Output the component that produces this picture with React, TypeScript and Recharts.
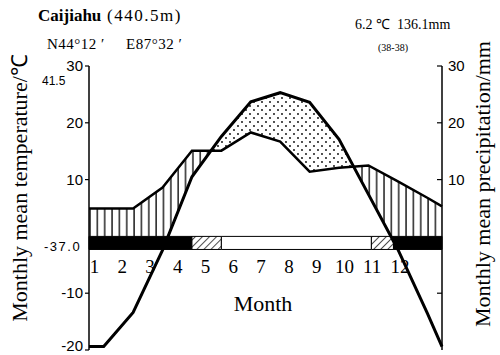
import React from "react";
import { ComposedChart, Line, Area, XAxis, YAxis, ReferenceArea } from "recharts";

// Caijiahu climate diagram (Walter-Lieth style)
const monthLabels = ["1", "2", "3", "4", "5", "6", "7", "8", "9", "10", "11", "12"];
const monthX = [0.5, 1.5, 2.5, 3.5, 4.5, 5.5, 6.5, 7.5, 8.5, 9.5, 10.5, 11.5];
const temperature = [-19.4, -13.4, -2.4, 10.5, 17.6, 23.7, 25.3, 23.6, 17.1, 7.4, -2.3, -13.5];
const precipitation = [4.9, 4.9, 8.6, 15.1, 15.1, 18.3, 16.7, 11.4, 12.1, 12.5, 9.7, 6.8];
// values at the left (x=0) and right (x=12) edges of the diagram
const edgeTemperature = [-19.4, -19.4];
const edgePrecipitation = [4.9, 5.3];

// frost bar under the zero line
const frostFrom = [0, 3.5, 4.5, 9.6, 10.35];
const frostTo = [3.5, 4.5, 9.6, 10.35, 12];
const frostKind = ["black", "hatch", "white", "hatch", "black"];

const leftTicks = [-20, -10, 10, 20, 30];
const rightTicks = [-10, 10, 20, 30];
const labelTicks = [1, 2, 3, 4, 5, 6, 7, 8, 9, 10, 11, 12];

type Row = { x: number; t: number; p: number };

const rows: Row[] = [
  { x: 0, t: edgeTemperature[0], p: edgePrecipitation[0] },
  ...monthX.map((x, i) => ({ x, t: temperature[i], p: precipitation[i] })),
  { x: 12, t: edgeTemperature[1], p: edgePrecipitation[1] },
];

// split segments where the curves cross (and where temperature crosses 0) so the fills close cleanly
function buildFills(rs: Row[]) {
  const out: Row[] = [];
  rs.forEach((a, i) => {
    out.push(a);
    const b = rs[i + 1];
    if (!b) return;
    const cuts: number[] = [];
    const d0 = a.p - a.t;
    const d1 = b.p - b.t;
    if (d0 * d1 < 0) cuts.push(d0 / (d0 - d1));
    if (a.t * b.t < 0) cuts.push(a.t / (a.t - b.t));
    cuts
      .sort((u, v) => u - v)
      .forEach((f) =>
        out.push({ x: a.x + (b.x - a.x) * f, t: a.t + (b.t - a.t) * f, p: a.p + (b.p - a.p) * f })
      );
  });
  return out.map((r) => ({
    x: r.x,
    humid: r.p >= r.t ? [Math.max(r.t, 0), r.p] : [r.p, r.p],
    arid: r.t > r.p ? [r.p, r.t] : [r.p, r.p],
  }));
}

const fills = buildFills(rows);

const BAR_DEPTH = -2.3;
const serif = "'Liberation Serif', 'Times New Roman', serif";
const sans = "'Liberation Sans', Arial, sans-serif";

const MonthTick = (props: any) => {
  const { x, y, payload } = props;
  return (
    <text x={x} y={y - 77} textAnchor="middle" fontFamily={serif} fontSize={19} fill="#000">
      {monthLabels[payload.value - 1]}
    </text>
  );
};

const LeftTick = (props: any) => {
  const { x, y, payload } = props;
  // the lowest label sits right at the bottom edge, keep it inside
  const dy = payload.value === -20 ? 1 : 5;
  return (
    <text x={x} y={y} dy={dy} textAnchor="end" fontFamily={sans} fontSize={15} fill="#000">
      {payload.value}
    </text>
  );
};

// right axis: tick marks point into the plot
const RightTick = (props: any) => {
  const { x, y, payload } = props;
  return (
    <g>
      <line x1={x - 11} y1={y} x2={x - 6} y2={y} stroke="#000" strokeWidth={1.2} />
      {payload.value > 0 && (
        <text x={x} y={y} dy={5} textAnchor="start" fontFamily={sans} fontSize={15} fill="#000">
          {payload.value}
        </text>
      )}
    </g>
  );
};

const txt = (style: React.CSSProperties): React.CSSProperties => ({
  position: "absolute",
  whiteSpace: "pre",
  color: "#000",
  lineHeight: 1,
  ...style,
});

export default function App() {
  return (
    <div style={{ position: "absolute", left: 0, top: 0, width: 500, height: 355, background: "#fff" }}>
      <ComposedChart width={500} height={355} data={rows} margin={{ top: 66, right: 0, bottom: 4, left: 0 }}>
        <defs>
          <pattern id="vhatch" patternUnits="userSpaceOnUse" x={89} width={7.35} height={10}>
            <line x1={1} y1={0} x2={1} y2={10} stroke="#000" strokeWidth={1.3} />
          </pattern>
          <pattern id="dots" patternUnits="userSpaceOnUse" width={8} height={8}>
            <circle cx={2} cy={2} r={0.9} fill="#000" />
            <circle cx={6} cy={6} r={0.9} fill="#000" />
          </pattern>
          <pattern id="diag" patternUnits="userSpaceOnUse" width={5} height={5} patternTransform="rotate(45)">
            <rect width={5} height={5} fill="#fff" />
            <line x1={0} y1={0} x2={0} y2={5} stroke="#000" strokeWidth={1.4} />
          </pattern>
        </defs>
        <XAxis xAxisId="m" type="number" dataKey="x" domain={[0, 12]} hide />
        <XAxis
          xAxisId="lbl"
          type="number"
          dataKey="x"
          domain={[0.802, 13.514]}
          ticks={labelTicks}
          interval={0}
          allowDataOverflow
          axisLine={false}
          tickLine={false}
          tickSize={0}
          tickMargin={0}
          height={1}
          tick={(p: any) => <MonthTick {...p} />}
        />
        <YAxis
          yAxisId="l"
          domain={[-20, 30]}
          ticks={leftTicks}
          interval={0}
          allowDataOverflow
          width={89}
          tickSize={4}
          tickMargin={2}
          axisLine={{ stroke: "#000", strokeWidth: 1.5 }}
          tickLine={{ stroke: "#000", strokeWidth: 1.2 }}
          tick={(p: any) => <LeftTick {...p} />}
        />
        <YAxis
          yAxisId="r"
          orientation="right"
          domain={[-20, 30]}
          ticks={rightTicks}
          interval={0}
          allowDataOverflow
          width={58}
          tickSize={0}
          tickMargin={6}
          tickLine={false}
          axisLine={{ stroke: "#000", strokeWidth: 1.5 }}
          tick={(p: any) => <RightTick {...p} />}
        />
        <Area
          data={fills}
          xAxisId="m"
          yAxisId="l"
          dataKey="humid"
          type="linear"
          stroke="none"
          fill="url(#vhatch)"
          fillOpacity={1}
          isAnimationActive={false}
        />
        <Area
          data={fills}
          xAxisId="m"
          yAxisId="l"
          dataKey="arid"
          type="linear"
          stroke="none"
          fill="url(#dots)"
          fillOpacity={1}
          isAnimationActive={false}
        />
        {frostKind.map((k, i) => (
          <ReferenceArea
            key={i}
            xAxisId="m"
            yAxisId="l"
            x1={frostFrom[i]}
            x2={frostTo[i]}
            y1={BAR_DEPTH}
            y2={0}
            fill={k === "black" ? "#000" : k === "hatch" ? "url(#diag)" : "#fff"}
            fillOpacity={1}
            stroke="#000"
            strokeWidth={1}
            ifOverflow="visible"
          />
        ))}
        <Line
          xAxisId="m"
          yAxisId="l"
          dataKey="p"
          type="linear"
          stroke="#000"
          strokeWidth={2.5}
          dot={false}
          isAnimationActive={false}
        />
        <Line
          xAxisId="m"
          yAxisId="l"
          dataKey="t"
          type="linear"
          stroke="#000"
          strokeWidth={3}
          dot={false}
          isAnimationActive={false}
        />
      </ComposedChart>

      <div style={txt({ left: 38, top: 7, fontFamily: serif, fontSize: 17 })}>
        <b>Caijiahu</b>
        <span style={{ letterSpacing: 1.5 }}> (440.5m)</span>
      </div>
      <div style={txt({ left: 47, top: 37, fontFamily: serif, fontSize: 15, letterSpacing: 0.5 })}>
        {"N44°12 ′     E87°32 ′"}
      </div>
      <div style={txt({ left: 355, top: 18, fontFamily: serif, fontSize: 14 })}>{"6.2 ℃  136.1mm"}</div>
      <div style={txt({ left: 378, top: 43, fontFamily: serif, fontSize: 10 })}>(38-38)</div>
      <div style={txt({ left: 42, top: 75, fontFamily: sans, fontSize: 12 })}>41.5</div>
      <div style={txt({ left: 44, top: 240, fontFamily: sans, fontSize: 13, letterSpacing: 1.5 })}>-37.0</div>
      <div style={txt({ left: 263, top: 304, fontFamily: serif, fontSize: 22, transform: "translate(-50%, -50%)" })}>
        Month
      </div>
      <div
        style={txt({
          left: 20,
          top: 188,
          fontFamily: serif,
          fontSize: 22,
          transform: "translate(-50%, -50%) rotate(-90deg)",
        })}
      >
        Monthly mean temperature/℃
      </div>
      <div
        style={txt({
          left: 483,
          top: 184,
          fontFamily: serif,
          fontSize: 22,
          transform: "translate(-50%, -50%) rotate(-90deg)",
        })}
      >
        Monthly mean precipitation/mm
      </div>
    </div>
  );
}
